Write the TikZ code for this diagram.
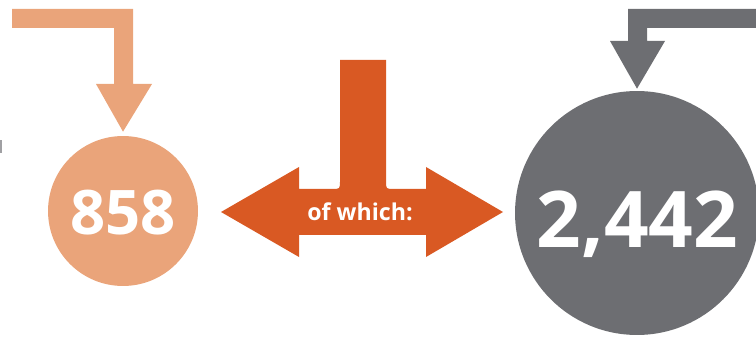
\documentclass[tikz,border=0pt]{standalone}
\usepackage{fontspec}
\setmainfont{Open Sans}
\usepackage{xcolor}
\usepackage{tikz}
\usetikzlibrary{positioning, calc}
\definecolor{peach}{RGB}{234,164,122}
\definecolor{burnt}{RGB}{217,89,35}
\definecolor{slate}{RGB}{109,110,114}
\definecolor{edgegrey}{RGB}{160,160,163}

\begin{document}
\begin{tikzpicture}[x=0.02cm, y=-0.02cm,
      disc/.style={circle, inner sep=0pt},
      num/.style={anchor=base, text=white, font=\bfseries}]

    \useasboundingbox (0,0) rectangle (756,337);

    \fill[fill=edgegrey] (0,140) rectangle (2,153);

    \node[disc, fill=peach, minimum size=3cm] (small) at (123,211) {};
    \node[disc, fill=slate, minimum size=4.88cm] (big) at (637,213) {};

    \node[num, font=\bfseries\fontsize{35}{40}\selectfont] (n858) at (123,235) {858};
    \node[num, font=\bfseries\fontsize{44.5}{50}\selectfont] (n2442) at (637.5,248) {2,442};

    \fill[peach] (12,9) -- (133,9) -- (133,84) -- (152,84) -- ($(small.north)+(0,-4)$)
      -- (96,84) -- (114,84) -- (114,28) -- (12,28) -- cycle;

    \fill[slate] (756,9) -- (628,9) -- (628,41) -- (610,41) -- ($(big.north)+(0,-2)$)
      -- (665,41) -- (647,41) -- (647,28) -- (756,28) -- cycle;

    \fill[burnt] (340,60) -- (386,60) -- (386,181) .. controls (386,189) .. (394,189)
      -- (426,189) -- (426,167) -- (503,212) -- (426,257) -- (426,235)
      -- (299,235) -- (299,257) -- (221,212) -- (299,167) -- (299,189)
      -- (332,189) .. controls (340,189) .. (340,181) -- cycle;
    \node[text=white, font=\bfseries\fontsize{13.2}{15}\selectfont] (which) at (360,212) {of which:};
  \end{tikzpicture}
\end{document}
